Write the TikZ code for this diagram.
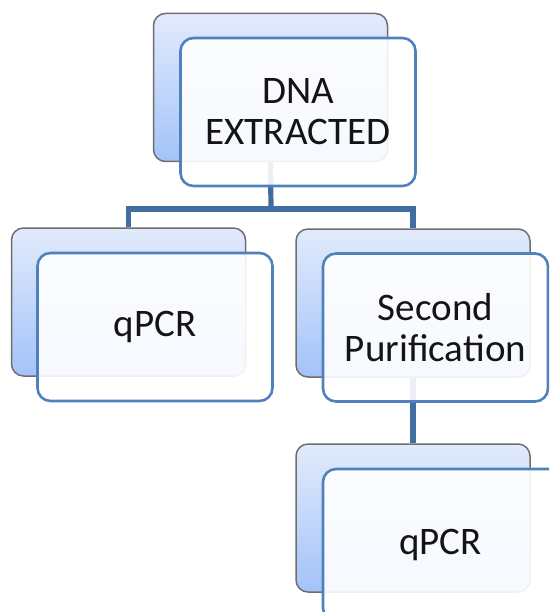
\documentclass[tikz,border=0pt]{standalone}
\usepackage{fontspec}
\setmainfont{Carlito}
\definecolor{backtop}{RGB}{226,235,252}
\definecolor{backbot}{RGB}{163,195,249}
\definecolor{backline}{RGB}{110,110,110}
\definecolor{frontline}{RGB}{79,129,189}
\definecolor{connline}{RGB}{65,110,160}
\begin{document}
\begin{tikzpicture}[x=1pt,y=-1pt,
  backbox/.style={draw=backline, line width=1.5pt, rounded corners=12pt,
    top color=backtop, bottom color=backbot, minimum width=234pt, minimum height=148pt, inner sep=0pt},
  frontbox/.style={draw=frontline, line width=2.6pt, rounded corners=13pt,
    fill=white, fill opacity=0.9, text opacity=1, minimum width=235pt, minimum height=148pt,
    inner sep=0pt, align=center, font=\fontsize{39}{41}\selectfont, text={black!92}},
  conn/.style={draw=connline, line width=5.2pt}]
\useasboundingbox (0,0) rectangle (549,612);
\clip (0,0) rectangle (549,612);
% back boxes
\node[backbox] (tb) at (270.5,87.5) {};
\node[backbox] (lb) at (128.5,302) {};
\node[backbox] (rb) at (413,303) {};
\node[backbox] (bb) at (413,518) {};
% connectors
\coordinate (j) at (271,209);
\draw[conn] (tb.south) -- (j);
\draw[conn] (lb.north) |- (j) -| (rb.north);
\draw[conn] (rb.south) -- (bb.north);
% front boxes
\node[frontbox] (tf) at (298,112) {DNA\\EXTRACTED};
\node[frontbox] (lf) at (155,327) {qPCR};
\node[frontbox, minimum width=225pt] (rf) at (435.5,327.5) {Second\\Purification};
\node[frontbox, minimum width=260pt, minimum height=152pt] (bf) at (453,545) {\hspace*{-25pt}qPCR};
\end{tikzpicture}
\end{document}
